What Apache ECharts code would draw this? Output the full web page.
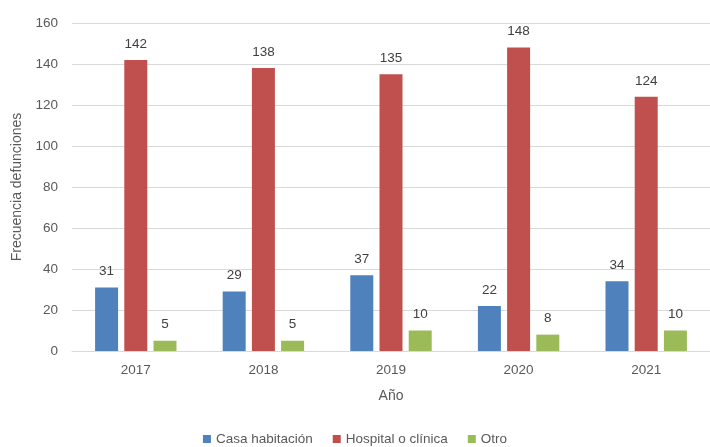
<!DOCTYPE html>
<html><head><meta charset="utf-8">
<script src="https://cdn.jsdelivr.net/npm/echarts@6/dist/echarts.min.js"></script>
<style>html,body{margin:0;padding:0;background:#fff}#c{width:710px;height:447px}</style>
</head><body><div id="c"></div>
<script>
const years = ['2017','2018','2019','2020','2021'];
const casa = [31, 29, 37, 22, 34];
const hospital = [142, 138, 135, 148, 124];
const otro = [5, 5, 10, 8, 10];
const seriesNames = ['Casa habitación', 'Hospital o clínica', 'Otro'];
const colors = ['#4F81BD', '#C0504D', '#9BBB59'];
const FONT = 'Liberation Sans, sans-serif';

const chart = echarts.init(document.getElementById('c'), null, {renderer: 'canvas'});
const lbl = {show: true, position: 'top', distance: 9, color: '#404040', fontSize: 13.5, fontFamily: FONT};
function mk(name, data, i) {
  return {
    name, type: 'bar', data, barWidth: 23, barGap: '27%',
    itemStyle: {color: colors[i]},
    label: lbl
  };
}
chart.setOption({
  animation: false,
  color: colors,
  grid: {left: 72, right: -2, top: 23, bottom: 96, containLabel: false},
  legend: {
    top: 432, left: 'center', padding: 0, itemWidth: 8, itemHeight: 8, itemGap: 20,
    icon: 'rect', textStyle: {fontSize: 13.5, color: '#595959', fontFamily: FONT},
    data: seriesNames
  },
  xAxis: {
    type: 'category', data: years,
    name: 'Año', nameLocation: 'middle', nameGap: 38,
    nameTextStyle: {fontSize: 14, color: '#595959', fontFamily: FONT},
    axisLine: {lineStyle: {color: '#D9D9D9'}},
    axisTick: {show: false},
    axisLabel: {color: '#595959', fontSize: 13.5, margin: 12, fontFamily: FONT}
  },
  yAxis: {
    type: 'value', min: 0, max: 160, interval: 20,
    name: 'Frecuencia defunciones', nameLocation: 'middle', nameGap: 41,
    nameTextStyle: {fontSize: 14, color: '#595959', fontFamily: FONT},
    axisLine: {show: false}, axisTick: {show: false},
    axisLabel: {color: '#595959', fontSize: 13.5, margin: 14, fontFamily: FONT},
    splitLine: {lineStyle: {color: '#D9D9D9'}}
  },
  series: [mk(seriesNames[0], casa, 0), mk(seriesNames[1], hospital, 1), mk(seriesNames[2], otro, 2)]
});
</script></body></html>
